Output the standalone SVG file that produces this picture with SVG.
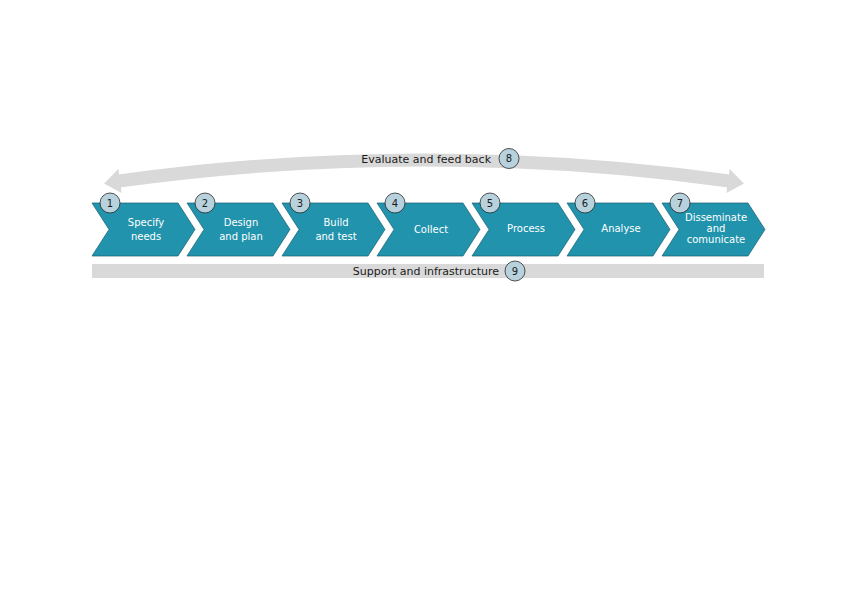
<svg xmlns="http://www.w3.org/2000/svg" width="842" height="595" viewBox="0 0 842 595">
<style>
.chev{fill:#2193ad;stroke:#1b5e6e;stroke-width:0.7}
.ct{font-family:"DejaVu Sans",Verdana,sans-serif;font-size:10px;fill:#ffffff;text-anchor:middle}
.num{fill:#b7d1dd;stroke:#2a2a2a;stroke-width:0.8}
.nt{font-family:"DejaVu Sans",Verdana,sans-serif;font-size:10px;fill:#1a1a1a;text-anchor:middle}
.lbl{font-family:"DejaVu Sans",Verdana,sans-serif;font-size:11px;fill:#1a1a1a;text-anchor:end}
.band{fill:none;stroke:#d9d9d9;stroke-width:13}
.head{fill:#d9d9d9}
</style>
<rect width="842" height="595" fill="#ffffff"/>
<g id="connectors">
  <path class="band" d="M119,181 Q424,139 729,181"/>
  <polygon class="head" points="104,183.4 118.4,169 121.6,193"/>
  <polygon class="head" points="744,183.4 729.6,169 726.4,193"/>
  <rect x="92" y="264" width="672" height="14" fill="#d9d9d9"/>
</g>
<g id="node8">
  <text class="lbl" x="491" y="163">Evaluate and feed back</text>
  <circle class="num" cx="509" cy="158.5" r="10"/>
  <text class="nt" x="509" y="162">8</text>
</g>
<g id="node9">
  <text class="lbl" x="499" y="275">Support and infrastructure</text>
  <circle class="num" cx="515" cy="271" r="10"/>
  <text class="nt" x="515" y="274.5">9</text>
</g>
<g id="node1" transform="translate(92,0)">
  <polygon class="chev" points="0,203 86,203 103,229.5 86,256 0,256 17,229.5"/>
  <text class="ct" x="54" y="226">Specify</text>
  <text class="ct" x="54" y="240">needs</text>
  <circle class="num" cx="18" cy="203" r="10"/>
  <text class="nt" x="18" y="206.5">1</text>
</g>
<g id="node2" transform="translate(187,0)">
  <polygon class="chev" points="0,203 86,203 103,229.5 86,256 0,256 17,229.5"/>
  <text class="ct" x="54" y="226">Design</text>
  <text class="ct" x="54" y="240">and plan</text>
  <circle class="num" cx="18" cy="203" r="10"/>
  <text class="nt" x="18" y="206.5">2</text>
</g>
<g id="node3" transform="translate(282,0)">
  <polygon class="chev" points="0,203 86,203 103,229.5 86,256 0,256 17,229.5"/>
  <text class="ct" x="54" y="226">Build</text>
  <text class="ct" x="54" y="240">and test</text>
  <circle class="num" cx="18" cy="203" r="10"/>
  <text class="nt" x="18" y="206.5">3</text>
</g>
<g id="node4" transform="translate(377,0)">
  <polygon class="chev" points="0,203 86,203 103,229.5 86,256 0,256 17,229.5"/>
  <text class="ct" x="54" y="233">Collect</text>
  <circle class="num" cx="18" cy="203" r="10"/>
  <text class="nt" x="18" y="206.5">4</text>
</g>
<g id="node5" transform="translate(472,0)">
  <polygon class="chev" points="0,203 86,203 103,229.5 86,256 0,256 17,229.5"/>
  <text class="ct" x="54" y="232">Process</text>
  <circle class="num" cx="18" cy="203" r="10"/>
  <text class="nt" x="18" y="206.5">5</text>
</g>
<g id="node6" transform="translate(567,0)">
  <polygon class="chev" points="0,203 86,203 103,229.5 86,256 0,256 17,229.5"/>
  <text class="ct" x="54" y="232">Analyse</text>
  <circle class="num" cx="18" cy="203" r="10"/>
  <text class="nt" x="18" y="206.5">6</text>
</g>
<g id="node7" transform="translate(662,0)">
  <polygon class="chev" points="0,203 86,203 103,229.5 86,256 0,256 17,229.5"/>
  <text class="ct" x="54" y="221">Disseminate</text>
  <text class="ct" x="54" y="232">and</text>
  <text class="ct" x="54" y="243">comunicate</text>
  <circle class="num" cx="18" cy="203" r="10"/>
  <text class="nt" x="18" y="206.5">7</text>
</g>
</svg>
